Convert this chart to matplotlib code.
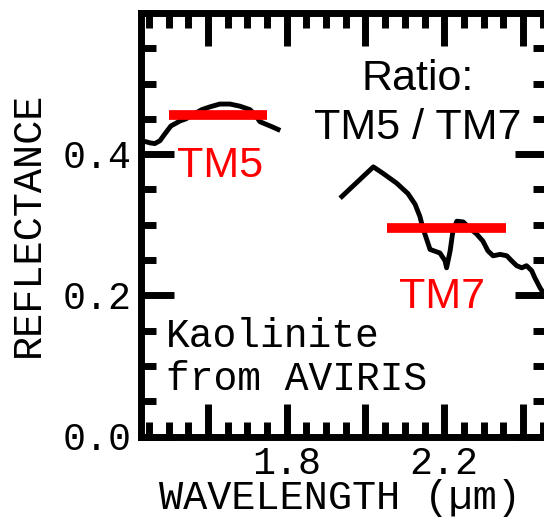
import numpy as np
import matplotlib
matplotlib.use('Agg')
import matplotlib.pyplot as plt
from matplotlib.ticker import MultipleLocator

# DATA
# kaolinite spectrum, part 1 (before the water band)
wl_1 = [1.430, 1.440, 1.453, 1.465, 1.478, 1.491, 1.506, 1.529, 1.544, 1.562,
        1.584, 1.605, 1.630, 1.656, 1.681, 1.707, 1.722, 1.732, 1.749, 1.762, 1.778]
refl_1 = [0.418, 0.418, 0.416, 0.415, 0.419, 0.429, 0.440, 0.447, 0.450, 0.456,
          0.463, 0.467, 0.471, 0.471, 0.468, 0.463, 0.454, 0.446, 0.442, 0.439, 0.435]

# kaolinite spectrum, part 2 (after the water band)
wl_2 = [1.940, 2.020, 2.044, 2.079, 2.108, 2.126, 2.138, 2.146, 2.155, 2.164,
        2.189, 2.202, 2.206, 2.215, 2.222, 2.232, 2.248, 2.265, 2.282, 2.298,
        2.311, 2.324, 2.342, 2.359, 2.371, 2.384, 2.397, 2.409, 2.422, 2.430,
        2.443, 2.451, 2.464]
refl_2 = [0.340, 0.382, 0.373, 0.359, 0.344, 0.329, 0.312, 0.295, 0.280, 0.265,
          0.260, 0.249, 0.239, 0.263, 0.291, 0.305, 0.304, 0.295, 0.287, 0.277,
          0.263, 0.256, 0.258, 0.256, 0.249, 0.242, 0.239, 0.242, 0.235, 0.225,
          0.211, 0.204, 0.198]

# TM band averages
tm5_band = [1.50, 1.75]
tm5_value = 0.456
tm7_band = [2.055, 2.357]
tm7_value = 0.296

x_major = [1.6, 1.8, 2.0, 2.2, 2.4]
x_major_labels = ['', '1.8', '', '2.2', '']
y_major = [0.0, 0.2, 0.4]
y_major_labels = ['0.0', '0.2', '0.4']

mono = 'Liberation Mono'
sans = 'Liberation Sans'

# PLOT
fig = plt.figure(figsize=(5.44, 5.20), dpi=100)
ax = fig.add_axes([141/544, 1 - 436.5/520, 407/544, 423.5/520])

ax.plot(wl_1, refl_1, color='black', lw=3.5, solid_joinstyle='round')
ax.plot(wl_2, refl_2, color='black', lw=3.5, solid_joinstyle='round')
ax.plot(tm5_band, [tm5_value, tm5_value], color='red', lw=7, solid_capstyle='butt')
ax.plot(tm7_band, [tm7_value, tm7_value], color='red', lw=7, solid_capstyle='butt')

ax.set_xlim(1.43, 2.4635)
ax.set_ylim(0.0, 0.6)

ax.set_xticks(x_major)
ax.set_xticklabels(x_major_labels)
ax.set_yticks(y_major)
ax.set_yticklabels(y_major_labels)
ax.xaxis.set_minor_locator(MultipleLocator(0.05))
ax.yaxis.set_minor_locator(MultipleLocator(0.05))

ax.tick_params(which='both', direction='in', top=True, right=True, width=5,
               labelsize=27.5, pad=7)
ax.tick_params(which='major', length=23.5)
ax.tick_params(which='minor', length=10.5)
for lab in ax.get_xticklabels() + ax.get_yticklabels():
    lab.set_family(mono)

for sp in ax.spines.values():
    sp.set_linewidth(5)

ax.set_xlabel('WAVELENGTH (µm)', family=mono, fontsize=29)
ax.set_ylabel('REFLECTANCE', family=mono, fontsize=29)
ax.xaxis.set_label_coords(0.49, -0.10)
ax.yaxis.set_label_coords(-0.232, 0.5)

# annotations
ax.text(2.133, 0.491, 'Ratio:', family=sans, fontsize=31, ha='center', va='baseline')
ax.text(2.133, 0.422, 'TM5 / TM7', family=sans, fontsize=31, ha='center', va='baseline')
ax.text(1.522, 0.368, 'TM5', family=sans, fontsize=31, color='red', ha='left', va='baseline')
ax.text(2.086, 0.182, 'TM7', family=sans, fontsize=31, color='red', ha='left', va='baseline')
ax.text(1.493, 0.1275, 'Kaolinite', family=mono, fontsize=28.5, ha='left', va='baseline')
ax.text(1.493, 0.0655, 'from AVIRIS', family=mono, fontsize=28.5, ha='left', va='baseline')

fig.savefig('out.png', dpi=100)
